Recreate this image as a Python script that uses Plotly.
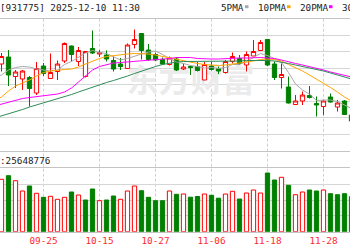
import plotly.graph_objects as go

# ---------------- data ----------------
dates = ["09-16","09-17","09-18","09-19","09-22","09-23","09-24","09-25","09-26","09-29","09-30",
         "10-09","10-10","10-13","10-14","10-15","10-16","10-17","10-20","10-21","10-22","10-23",
         "10-24","10-27","10-28","10-29","10-30","10-31","11-03","11-04","11-05","11-06","11-07",
         "11-10","11-11","11-12","11-13","11-14","11-17","11-18","11-19","11-20","11-21","11-24",
         "11-25","11-26","11-27","11-28","12-01","12-02","12-03","12-04"]
opens = [1684,1672,1686,1647,1642,1645,1614,1668,1643,1657,1678,1708,1677,1647,1703,1692,1690,1679,
         1672,1663,1711,1733,1700,1691,1681,1671,1682,1662,1667,1667,1640,1668,1663,1655,1677,1683,
         1670,1688,1699,1721,1672,1645,1626,1591,1598,1609,1593,1587,1606,1586,1598,1570]
highs = [1688,1694,1700,1660,1660,1648,1676,1674,1693,1679,1715,1709,1706,1698,1739,1700,1699,1687,
         1684,1713,1741,1734,1712,1695,1685,1687,1686,1673,1669,1676,1676,1676,1667,1680,1695,1690,
         1697,1720,1720,1722,1677,1673,1647,1610,1617,1628,1607,1600,1613,1600,1600,1572]
lows = [1672,1657,1628,1624,1620,1587,1610,1648,1642,1640,1674,1677,1668,1645,1692,1686,1677,1657,
        1660,1662,1703,1681,1678,1678,1670,1669,1658,1660,1650,1657,1640,1659,1652,1653,1673,1670,
        1657,1688,1698,1668,1640,1623,1593,1590,1590,1603,1567,1570,1595,1577,1570,1548]
closes = [1680,1687,1650,1656,1658,1623,1663,1653,1655,1672,1713,1691,1699,1697,1694,1695,1682,1662,
          1667,1710,1721,1699,1681,1680,1672,1684,1660,1666,1665,1659,1671,1661,1658,1677,1687,1673,
          1691,1697,1715,1670,1645,1651,1594,1598,1610,1605,1590,1598,1596,1594,1571,1558]
volumes = [45000000,52400000,56000000,51000000,40700000,45700000,38400000,34400000,35400000,32400000,
           34400000,39700000,36700000,31700000,42700000,31000000,31700000,35700000,32400000,40700000,
           45700000,41000000,34400000,31000000,31000000,40700000,37400000,37700000,34500000,35200000,
           37700000,36400000,33500000,37700000,40400000,32700000,38700000,41700000,38700000,58700000,
           51700000,54400000,46400000,37000000,39700000,41700000,40700000,41700000,38000000,37000000,
           38000000,35000000]
ma5 = [1646,1650,1660,1665,1667,1666,1662,1660,1658,1660,1671,1677,1686,1694,1699,1695,1693,1686,
       1680,1683,1688,1692,1696,1698,1691,1683,1676,1673,1669,1667,1664,1665,1663,1665,1671,1671,
       1677,1685,1693,1689,1683,1675,1655,1632,1620,1612,1599,1600,1600,1597,1590,1583]
ma10 = [1598,1606,1618,1628,1634,1640,1648,1655,1658,1660,1661,1662,1666,1672,1678,1683,1687,1689,
        1691,1692,1693,1693,1692,1690,1687,1684,1681,1679,1676,1673,1671,1670,1669,1670,1672,1673,
        1675,1678,1681,1682,1681,1678,1671,1665,1658,1650,1642,1634,1625,1616,1606,1598]
ma20 = [1588,1592,1596,1600,1603,1605,1607,1608,1610,1612,1616,1624,1636,1648,1660,1667,1671,1674,
        1675,1676,1677,1678,1679,1680,1682,1683,1685,1685,1685,1683,1682,1682,1682,1683,1683,1684,
        1684,1685,1685,1684,1683,1680,1676,1673,1670,1667,1664,1660,1656,1653,1649,1646]
ma30 = [1564,1568,1573,1577,1581,1586,1590,1594,1598,1602,1606,1611,1616,1621,1626,1631,1635,1639,
        1643,1648,1653,1658,1663,1667,1671,1674,1676,1677,1677,1677,1677,1677,1677,1677,1678,1678,
        1679,1679,1680,1679,1678,1676,1673,1670,1667,1665,1662,1658,1654,1650,1646,1642]
tick_labels = ["09-25", "10-15", "10-27", "11-06", "11-18", "11-28"]
ma_names = ["5PMA", "10PMA", "20PMA", "30PMA"]
title_text = "[931775] 2025-12-10 11:30"
vol_text = ":25648776"
watermark_text = "东方财富"

# ---------------- styles ----------------
W, H = 350, 250
RED = "#ff0000"
GREEN = "#008000"
MA_COLORS = ["#a8a8a8", "#ffa500", "#ff00ff", "#2e8b57"]
GRID = "#d6d6d6"
FONT = "DejaVu Sans Mono"

def px_x(v):
    return v / W

def px_y(v):
    return 1 - v / H

price_lo, price_hi = 1499, 1762
vol_hi = 63400000

fig = go.Figure()

# watermark (base subplot, below candles)
fig.add_trace(go.Scatter(
    x=[dates[28]], y=[1632], mode="text", text=[watermark_text],
    textfont=dict(family="Noto Sans CJK SC", size=32, color="#ebebeb", weight="bold"),
    xaxis="x", yaxis="y", hoverinfo="skip", showlegend=False))

fig.add_trace(go.Candlestick(
    x=dates, open=opens, high=highs, low=lows, close=closes,
    xaxis="x", yaxis="y3", whiskerwidth=0,
    increasing=dict(line=dict(color=RED, width=1), fillcolor="#ffffff"),
    decreasing=dict(line=dict(color=GREEN, width=1), fillcolor=GREEN),
    hoverinfo="skip", showlegend=False))

for name, vals, col in zip(ma_names, [ma5, ma10, ma20, ma30], MA_COLORS):
    fig.add_trace(go.Scatter(x=dates, y=vals, mode="lines", name=name,
                             line=dict(color=col, width=1), xaxis="x", yaxis="y3",
                             hoverinfo="skip", showlegend=False))

up = [True] + [closes[k] >= closes[k - 1] for k in range(1, len(closes))]
fig.add_trace(go.Bar(
    x=dates, y=volumes, xaxis="x2", yaxis="y2",
    marker=dict(color=["#ffffff" if u else GREEN for u in up],
                line=dict(color=[RED if u else GREEN for u in up], width=1)),
    hoverinfo="skip", showlegend=False))

k0 = dates.index(tick_labels[0])
xr = [k0 - 43.5 / 7, k0 + (W - 43.5) / 7]

cand_dom = [px_y(150.5), px_y(19)]
vol_dom = [px_y(231.7), px_y(168.3)]

shapes = []
for lbl in tick_labels:
    k = dates.index(lbl)
    shapes.append(dict(type="line", xref="x", yref="paper", x0=k, x1=k,
                       y0=vol_dom[0], y1=cand_dom[1], layer="below",
                       line=dict(color="#cfcfcf", width=1, dash="3px,2px")))

# legend markers
leg_text_x = [220, 256.5, 298.5, 340.5]
leg_mark_x = [245, 287, 329, 371]
annotations = []
for name, tx, mx, col in zip(ma_names, leg_text_x, leg_mark_x, MA_COLORS):
    annotations.append(dict(text=name, x=px_x(tx), y=px_y(7), xref="paper", yref="paper",
                            xanchor="left", yanchor="middle", showarrow=False, borderpad=0,
                            font=dict(family=FONT, size=9.3, color="#222222")))
    shapes.append(dict(type="rect", xref="paper", yref="paper", x0=px_x(mx), x1=px_x(mx + 3.5),
                       y0=px_y(8.2), y1=px_y(5.2), fillcolor=col, line=dict(width=0)))

annotations.append(dict(text=title_text, x=px_x(-1), y=px_y(7), xref="paper", yref="paper",
                        xanchor="left", yanchor="middle", showarrow=False, borderpad=0,
                        font=dict(family=FONT, size=9.3, color="#222222")))
annotations.append(dict(text=vol_text, x=px_x(-1.5), y=px_y(160), xref="paper", yref="paper",
                        xanchor="left", yanchor="middle", showarrow=False, borderpad=0,
                        font=dict(family=FONT, size=9.3, color="#222222")))

fig.update_layout(
    width=W, height=H, margin=dict(l=0, r=0, t=0, b=0),
    paper_bgcolor="#ffffff", plot_bgcolor="#ffffff",
    showlegend=False, hovermode=False, boxgap=0.39, boxgroupgap=0, bargap=0.39,
    xaxis=dict(type="category", categoryorder="array", categoryarray=dates, range=xr,
               domain=[0, 1], anchor="y", showticklabels=False, showgrid=False,
               showline=True, mirror=True, linecolor="#c4c4c4", linewidth=1,
               ticks="", rangeslider=dict(visible=False), fixedrange=True),
    yaxis=dict(domain=cand_dom, range=[price_lo, price_hi], tick0=price_lo,
               dtick=(price_hi - price_lo) / 8, showgrid=True, gridcolor=GRID, gridwidth=1,
               showticklabels=False, zeroline=False, ticks="", fixedrange=True),
    yaxis3=dict(overlaying="y", anchor="x", range=[price_lo, price_hi], visible=False,
                fixedrange=True),
    xaxis2=dict(type="category", matches="x", anchor="y2", domain=[0, 1],
                tickvals=tick_labels, ticktext=tick_labels, showgrid=False,
                showline=True, mirror=True, linecolor="#c4c4c4", linewidth=1, ticks="",
                tickfont=dict(family=FONT, size=9.3, color="#ff2a2a"), fixedrange=True),
    yaxis2=dict(domain=vol_dom, range=[0, vol_hi], tick0=0, dtick=vol_hi / 4,
                showgrid=True, gridcolor=GRID, gridwidth=1, showticklabels=False,
                zeroline=False, ticks="", fixedrange=True),
    shapes=shapes, annotations=annotations,
)

fig.write_html("out.html")
